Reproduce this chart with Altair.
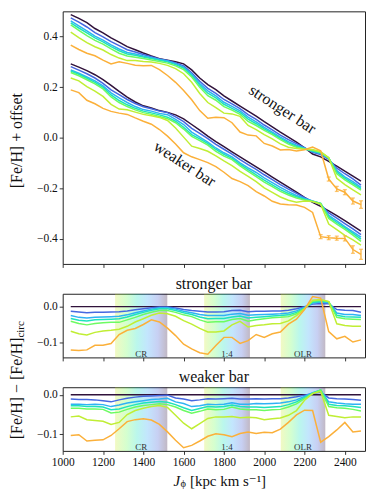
import altair as alt
import pandas as pd

FONT = "Liberation Serif, Times New Roman, DejaVu Serif, serif"

# ---------------- data ----------------
J = [1040, 1080, 1120, 1160, 1200, 1240, 1280, 1320, 1360, 1400,
     1440, 1480, 1520, 1560, 1600, 1640, 1680, 1720, 1760, 1800,
     1840, 1880, 1920, 1960, 2000, 2040, 2080, 2120, 2160, 2200,
     2240, 2280, 2320, 2360, 2400, 2440, 2480]

SERIES = ["circ", "s1", "s2", "s3", "s4", "s5", "s6"]
COLORS = ["#30123b", "#4668e0", "#2fb2f4", "#1fe3bc", "#6dfb62", "#c0ee34", "#fbb03a"]

# top panel: [Fe/H] + offset of the circular (reference) profile
STRONG_CIRC = [0.487, 0.472, 0.455, 0.432, 0.415, 0.395, 0.378, 0.360, 0.348, 0.335,
               0.323, 0.312, 0.306, 0.300, 0.292, 0.268, 0.236, 0.210, 0.190, 0.165,
               0.145, 0.125, 0.105, 0.085, 0.063, 0.043, 0.022, 0.002, -0.018, -0.040,
               -0.065, -0.076, -0.094, -0.113, -0.133, -0.152, -0.172]
WEAK_CIRC = [0.292, 0.279, 0.265, 0.249, 0.230, 0.207, 0.183, 0.160, 0.141, 0.126,
             0.117, 0.107, 0.100, 0.090, 0.074, 0.052, 0.030, 0.006, -0.016, -0.036,
             -0.056, -0.076, -0.096, -0.116, -0.136, -0.156, -0.176, -0.196, -0.216, -0.237,
             -0.256, -0.272, -0.290, -0.309, -0.329, -0.349, -0.370]

# residuals [Fe/H] - [Fe/H]_circ
STRONG_RES = {
    "s1": [-0.013, -0.015, -0.017, -0.016, -0.016, -0.015, -0.014, -0.012, -0.009, -0.006,
           -0.003, -0.001, -0.001, -0.004, -0.008, -0.011, -0.013, -0.015, -0.015, -0.014,
           -0.011, -0.010, -0.014, -0.013, -0.013, -0.012, -0.012, -0.010, -0.006, 0.000,
           0.007, 0.009, 0.008, -0.008, -0.010, -0.011, -0.016],
    "s2": [-0.025, -0.030, -0.032, -0.030, -0.029, -0.028, -0.027, -0.023, -0.017, -0.012,
           -0.007, -0.003, -0.003, -0.007, -0.013, -0.017, -0.022, -0.025, -0.025, -0.025,
           -0.021, -0.019, -0.024, -0.023, -0.022, -0.021, -0.020, -0.018, -0.012, -0.002,
           0.010, 0.013, 0.011, -0.018, -0.022, -0.022, -0.025],
    "s3": [-0.033, -0.038, -0.040, -0.037, -0.036, -0.035, -0.034, -0.029, -0.022, -0.016,
           -0.010, -0.006, -0.006, -0.011, -0.017, -0.022, -0.029, -0.034, -0.033, -0.033,
           -0.029, -0.026, -0.032, -0.030, -0.028, -0.026, -0.025, -0.023, -0.016, -0.004,
           0.012, 0.015, 0.013, -0.024, -0.028, -0.029, -0.030],
    "s4": [-0.041, -0.047, -0.051, -0.047, -0.045, -0.044, -0.044, -0.037, -0.030, -0.022,
           -0.016, -0.011, -0.011, -0.016, -0.023, -0.028, -0.037, -0.044, -0.042, -0.042,
           -0.036, -0.033, -0.041, -0.037, -0.034, -0.031, -0.030, -0.028, -0.020, -0.005,
           0.015, 0.018, 0.014, -0.030, -0.034, -0.035, -0.036],
    "s5": [-0.069, -0.076, -0.079, -0.072, -0.068, -0.066, -0.063, -0.055, -0.043, -0.034,
           -0.024, -0.018, -0.020, -0.027, -0.039, -0.049, -0.061, -0.071, -0.071, -0.068,
           -0.051, -0.041, -0.057, -0.053, -0.051, -0.048, -0.047, -0.040, -0.025, -0.006,
           0.018, 0.020, 0.014, -0.048, -0.053, -0.055, -0.055],
    "s6": [-0.121, -0.123, -0.121, -0.108, -0.108, -0.103, -0.078, -0.066, -0.061, -0.050,
           -0.037, -0.043, -0.060, -0.081, -0.105, -0.118, -0.129, -0.133, -0.109, -0.086,
           -0.086, -0.103, -0.095, -0.078, -0.086, -0.076, -0.071, -0.049, -0.035, -0.008,
           0.028, 0.024, -0.070, -0.090, -0.083, -0.099, -0.093],
}
WEAK_RES = {
    "s1": [-0.011, -0.012, -0.012, -0.013, -0.015, -0.018, -0.013, -0.009, -0.006, -0.004,
           -0.003, -0.002, -0.001, -0.008, -0.011, -0.015, -0.013, -0.010, -0.011, -0.010,
           -0.009, -0.011, -0.011, -0.010, -0.011, -0.010, -0.010, -0.008, -0.005, -0.001,
           0.003, 0.007, -0.008, -0.010, -0.011, -0.012, -0.014],
    "s2": [-0.024, -0.024, -0.025, -0.024, -0.025, -0.030, -0.026, -0.021, -0.018, -0.015,
           -0.012, -0.011, -0.009, -0.018, -0.022, -0.030, -0.028, -0.024, -0.025, -0.024,
           -0.020, -0.024, -0.024, -0.022, -0.023, -0.022, -0.021, -0.018, -0.013, -0.004,
           0.005, 0.011, -0.018, -0.021, -0.023, -0.024, -0.024],
    "s3": [-0.028, -0.028, -0.030, -0.030, -0.031, -0.038, -0.036, -0.030, -0.025, -0.021,
           -0.019, -0.017, -0.019, -0.025, -0.033, -0.040, -0.035, -0.030, -0.031, -0.030,
           -0.026, -0.030, -0.031, -0.031, -0.032, -0.031, -0.030, -0.025, -0.018, -0.007,
           0.004, 0.012, -0.024, -0.027, -0.028, -0.030, -0.032],
    "s4": [-0.034, -0.034, -0.036, -0.036, -0.037, -0.046, -0.044, -0.037, -0.031, -0.027,
           -0.025, -0.023, -0.025, -0.031, -0.040, -0.047, -0.042, -0.036, -0.038, -0.037,
           -0.031, -0.036, -0.038, -0.038, -0.040, -0.038, -0.037, -0.031, -0.023, -0.010,
           0.003, 0.012, -0.030, -0.033, -0.034, -0.037, -0.041],
    "s5": [-0.056, -0.054, -0.063, -0.065, -0.067, -0.075, -0.070, -0.050, -0.040, -0.034,
           -0.030, -0.027, -0.032, -0.052, -0.072, -0.086, -0.073, -0.060, -0.056, -0.056,
           -0.055, -0.058, -0.057, -0.058, -0.063, -0.061, -0.059, -0.052, -0.040, -0.014,
           0.003, 0.008, -0.052, -0.055, -0.058, -0.056, -0.056],
    "s6": [-0.103, -0.101, -0.117, -0.115, -0.114, -0.103, -0.086, -0.068, -0.063, -0.061,
           -0.064, -0.075, -0.094, -0.115, -0.134, -0.128, -0.117, -0.105, -0.099, -0.101,
           -0.106, -0.098, -0.094, -0.098, -0.095, -0.096, -0.087, -0.070, -0.051, -0.039,
           -0.040, -0.120, -0.106, -0.089, -0.070, -0.094, -0.092],
}

# error bars on the outermost (orange) profile in the top panel
ERR_J_STRONG = [2320, 2360, 2400, 2440, 2480]
ERR_STRONG = [0.008, 0.010, 0.010, 0.012, 0.015]
ERR_J_WEAK = [2280, 2320, 2360, 2400, 2440, 2480]
ERR_WEAK = [0.008, 0.008, 0.008, 0.010, 0.015, 0.020]

# resonance bands
BAND_LO = [1260, 1702, 2082]
BAND_HI = [1519, 1929, 2303]
BAND_LABELS = ["CR", "1:4", "OLR"]

# in-panel annotations
ANNOT_TEXT = ["stronger bar", "weaker bar"]
ANNOT_J = [2090, 1605]
ANNOT_Y = [0.112, -0.104]

XTICKS = [1000, 1200, 1400, 1600, 1800, 2000, 2200, 2400]

# ---------------- tables ----------------
rows = []
for bar, circ, res in [("strong", STRONG_CIRC, STRONG_RES), ("weak", WEAK_CIRC, WEAK_RES)]:
    for s in SERIES:
        r = res.get(s, [0.0] * len(J))
        for j, c, v in zip(J, circ, r):
            rows.append({"bar": bar, "series": s, "J": j, "res": v, "top": c + v})
df = pd.DataFrame(rows)

err_rows = []
for bar, js, es in [("strong", ERR_J_STRONG, ERR_STRONG), ("weak", ERR_J_WEAK, ERR_WEAK)]:
    sub = df[(df.bar == bar) & (df.series == "s6")].set_index("J")
    for j, e in zip(js, es):
        c = sub.loc[j, "top"]
        err_rows.append({"bar": bar, "J": j, "lo": c - e, "hi": c + e})
err_df = pd.DataFrame(err_rows)

bands = pd.DataFrame({"lo": BAND_LO, "hi": BAND_HI, "label": BAND_LABELS})
annot = pd.DataFrame({"text": ANNOT_TEXT, "J": ANNOT_J, "y": ANNOT_Y})

# ---------------- chart ----------------
W = 304
H_TOP, H_RES = 254, 64
xscale = alt.Scale(domain=[1000, 2500], nice=False, zero=False)
color = alt.Color("series:N", scale=alt.Scale(domain=SERIES, range=COLORS), legend=None)

def xaxis(labels):
    if labels:
        return alt.Axis(values=XTICKS, format="d", title=None, labelPadding=2, labelFlush=False)
    return alt.Axis(values=XTICKS, labels=False, title=None)

def txt(text, **kw):
    return alt.Chart(pd.DataFrame({"t": [text]})).mark_text(font=FONT, color="#111", **kw).encode(text="t:N")

# --- top panel
ytop = alt.Y("top:Q", scale=alt.Scale(domain=[-0.5, 0.5], nice=False),
             axis=alt.Axis(values=[-0.4, -0.2, 0.0, 0.2, 0.4], format=".1f", title=None, labelFlush=False))
top_lines = alt.Chart(df).mark_line(strokeWidth=1.5, clip=True).encode(
    x=alt.X("J:Q", scale=xscale, axis=xaxis(False)), y=ytop, color=color, detail="bar:N")
err_rule = alt.Chart(err_df).mark_rule(color=COLORS[-1], strokeWidth=1.3).encode(
    x="J:Q", y="lo:Q", y2="hi:Q")
err_lo = alt.Chart(err_df).mark_tick(color=COLORS[-1], orient="horizontal", size=4, thickness=1.3).encode(
    x="J:Q", y="lo:Q")
err_hi = alt.Chart(err_df).mark_tick(color=COLORS[-1], orient="horizontal", size=4, thickness=1.3).encode(
    x="J:Q", y="hi:Q")
annot_text = alt.Chart(annot).mark_text(font=FONT, fontSize=16, angle=33, color="#111").encode(
    x="J:Q", y="y:Q", text="text:N")
top_title = txt("[Fe/H] + offset", fontSize=16, angle=270, baseline="middle").encode(
    x=alt.value(-45.7), y=alt.value(130))
top = alt.layer(top_lines, err_rule, err_lo, err_hi, annot_text, top_title).properties(width=W, height=H_TOP)

grad = alt.LinearGradient(
    gradient="linear", x1=0, x2=1, y1=0, y2=0,
    stops=[alt.GradientStop(color="#d2ec38", offset=0),
           alt.GradientStop(color="#72fe5e", offset=0.22),
           alt.GradientStop(color="#1ae4c0", offset=0.42),
           alt.GradientStop(color="#36aaf9", offset=0.62),
           alt.GradientStop(color="#4662d7", offset=0.82),
           alt.GradientStop(color="#30123b", offset=1)])

def res_panel(bar, ydom, title, labels):
    band = alt.Chart(bands).mark_rect(color=grad, opacity=0.3).encode(
        x=alt.X("lo:Q", scale=xscale, axis=xaxis(labels)), x2="hi:Q",
        y=alt.value(0), y2=alt.value(H_RES))
    blab = alt.Chart(bands).transform_calculate(mid="(datum.lo + datum.hi) / 2").mark_text(
        font=FONT, fontSize=9, color="#333", baseline="alphabetic").encode(
        x="mid:Q", y=alt.value(H_RES - 0.5), text="label:N")
    lines = alt.Chart(df[df.bar == bar]).mark_line(strokeWidth=1.5, clip=True).encode(
        x="J:Q",
        y=alt.Y("res:Q", scale=alt.Scale(domain=ydom, nice=False, zero=False),
                axis=alt.Axis(values=[-0.1, 0.0], format=".1f", title=None, labelFlush=False)),
        color=color)
    ttl = txt(title, fontSize=16, baseline="middle").encode(x=alt.value(W / 2), y=alt.value(-10))
    return [band, blab, lines, ttl]

mid = alt.layer(*res_panel("strong", [-0.142, 0.036], "stronger bar", False)).properties(width=W, height=H_RES)

bot_layers = res_panel("weak", [-0.142, 0.019], "weaker bar", True)
# shared y label with subscript
ylab_main = txt("[Fe/H] \u2212 [Fe/H]", fontSize=16, angle=270, baseline="middle", align="right").encode(
    x=alt.value(-45.7), y=alt.value(-50))
ylab_sub = txt("circ", fontSize=11, angle=270, baseline="middle", align="left").encode(
    x=alt.value(-41.7), y=alt.value(-50))
# x label J_phi [kpc km s^-1]
xl_J = txt("J", fontSize=15, fontStyle="italic", baseline="middle", align="right").encode(
    x=alt.value(118), y=alt.value(94))
xl_phi = txt("\u03d5", fontSize=10.5, baseline="middle", align="left").encode(
    x=alt.value(118.5), y=alt.value(97.5))
xl_rest = txt("[kpc km s\u207b\u00b9]", fontSize=15, baseline="middle", align="left").encode(
    x=alt.value(128), y=alt.value(94))
bot = alt.layer(*bot_layers, ylab_main, ylab_sub, xl_J, xl_phi, xl_rest).properties(width=W, height=H_RES)

chart = alt.vconcat(top, mid, bot, spacing=30, bounds="flush").properties(
    padding={"left": 0, "top": 1, "right": 0, "bottom": 0}
).configure_view(stroke="#222", strokeWidth=1).configure_axis(
    labelFont=FONT, labelFontSize=11.5, labelColor="#111", tickColor="#222",
    tickSize=3.5, tickWidth=0.9, domain=False, grid=False, labelPadding=2,
    labelFlush=False, titleFont=FONT, titleFontWeight="normal"
)

chart.save("out.html", embed_options={"renderer": "svg", "actions": False})
